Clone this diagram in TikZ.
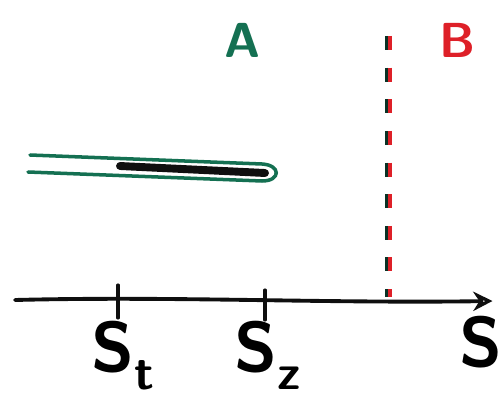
\documentclass[tikz,border=0pt]{standalone}
\usepackage{fontspec}
\usepackage{xcolor}
\usepackage{tikz}
\usetikzlibrary{arrows.meta, positioning}
\definecolor{skA}{RGB}{ 20,112, 82}
\definecolor{skB}{RGB}{222, 32, 40}
\definecolor{skK}{RGB}{ 15, 15, 15}
\newcommand{\sksub}[2]{#1\raisebox{-0.26em}{\fontsize{28}{32}\selectfont #2}}

\begin{document}
\begin{tikzpicture}[
    axisline/.style={draw=skK, line width=2.2pt, line cap=round},
    tickline/.style={draw=skK, line width=1.8pt, line cap=round},
    sklabel/.style={font=\fontsize{40}{46}\selectfont\sffamily\bfseries, anchor=base, inner sep=1pt},
    bound/.style={dash pattern=on 8pt off 10pt, line width=2.6pt}
  ]
  \useasboundingbox (0,0) rectangle (10.02,8.02);

  % axis
  \coordinate (ax0) at (0.3,2.02);
  \coordinate (ax1) at (9.85,2.0);
  \draw[axisline, -{Stealth[length=11pt,width=11pt,open]}] (ax0) .. controls (3.5,2.1) and (6.5,1.95) .. (ax1);
  \node[sklabel] (s) at (9.62,0.7) {S};

  % ticks
  \coordinate (t1a) at (2.36,2.32);
  \coordinate (t1b) at (2.36,1.66);
  \coordinate (t2a) at (5.3,2.22);
  \coordinate (t2b) at (5.3,1.62);
  \draw[tickline] (t1a) -- (t1b);
  \draw[tickline] (t2a) -- (t2b);
  \node[sklabel] (st) at (2.45,0.6) {\sksub{S}{t}};
  \node[sklabel] (sz) at (5.35,0.6) {\sksub{S}{z}};

  % A
  \node[text=skA, font=\fontsize{28}{32}\selectfont\sffamily\bfseries] (a) at (4.85,7.22) {A};
  \coordinate (up0) at (0.6,4.92);
  \coordinate (up1) at (5.24,4.74);
  \coordinate (lo1) at (5.24,4.40);
  \coordinate (lo0) at (0.56,4.58);
  \draw[skK, line width=4.5pt, line cap=round] (2.4,4.7) -- (5.3,4.56);
  \draw[skA, line width=2pt, line cap=round]
    (up0) -- (up1) .. controls (5.62,4.72) and (5.62,4.40) .. (lo1) -- (lo0);

  % B
  \node[text=skB, font=\fontsize{28}{32}\selectfont\sffamily\bfseries] (b) at (9.16,7.22) {B};
  \coordinate (bt) at (7.76,7.3);
  \coordinate (bb) at (7.76,2.08);
  \draw[bound, skB] ([xshift=0.8pt]bt) -- ([xshift=0.8pt]bb);
  \draw[bound, skA!45!black, line width=1.8pt] ([xshift=-0.7pt]bt) -- ([xshift=-0.7pt]bb);
\end{tikzpicture}
\end{document}
